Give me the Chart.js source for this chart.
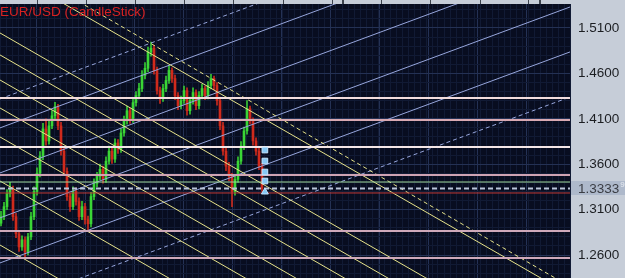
<!DOCTYPE html>
<html>
<head>
<meta charset="utf-8">
<script src="https://cdn.jsdelivr.net/npm/chart.js@4.4.1/dist/chart.umd.min.js"></script>
<style>
  html, body { margin: 0; padding: 0; background: #c6cdd8; }
  #wrap { width: 625px; height: 278px; position: relative; }
</style>
</head>
<body>
<div id="wrap"><canvas id="chart"></canvas></div>
<script>
// EUR/USD bars (one bar = 3px)
const opens = [
  1.2950, 1.3022, 1.3133, 1.3278, 1.3322, 1.3022, 1.2833, 1.2689, 1.2767, 1.2633,
  1.2800, 1.3022, 1.3300, 1.3500, 1.3689, 1.3989, 1.3856, 1.4022, 1.4133, 1.4233,
  1.4022, 1.3744, 1.3522, 1.3244, 1.3133, 1.3300, 1.3189, 1.3022, 1.3133, 1.2989,
  1.2944, 1.3244, 1.3389, 1.3467, 1.3544, 1.3433, 1.3633, 1.3744, 1.3656, 1.3833,
  1.3767, 1.3944, 1.4078, 1.4189, 1.4100, 1.4278, 1.4356, 1.4433, 1.4578, 1.4656,
  1.4833, 1.4878, 1.4633, 1.4411, 1.4322, 1.4433, 1.4522, 1.4633, 1.4544, 1.4356,
  1.4244, 1.4300, 1.4411, 1.4189, 1.4300, 1.4389, 1.4244, 1.4356, 1.4433, 1.4356,
  1.4467, 1.4544, 1.4467, 1.4300, 1.4022, 1.3744, 1.3578, 1.3467, 1.3300, 1.3433,
  1.3633, 1.3800, 1.3967, 1.4211, 1.4078, 1.3856, 1.3744, 1.3578
];
const highs = [
  1.3080, 1.3180, 1.3320, 1.3400, 1.3360, 1.3060, 1.2870, 1.2810, 1.2800, 1.2840,
  1.3070, 1.3350, 1.3560, 1.3740, 1.4050, 1.4100, 1.4080, 1.4190, 1.4280, 1.4260,
  1.4060, 1.3780, 1.3560, 1.3280, 1.3350, 1.3340, 1.3230, 1.3190, 1.3170, 1.3030,
  1.3290, 1.3440, 1.3510, 1.3600, 1.3580, 1.3680, 1.3800, 1.3790, 1.3880, 1.3870,
  1.3990, 1.4130, 1.4240, 1.4220, 1.4330, 1.4400, 1.4490, 1.4630, 1.4720, 1.4890,
  1.4944, 1.4910, 1.4670, 1.4450, 1.4480, 1.4570, 1.4690, 1.4660, 1.4580, 1.4390,
  1.4350, 1.4460, 1.4440, 1.4340, 1.4440, 1.4420, 1.4400, 1.4480, 1.4460, 1.4510,
  1.4590, 1.4570, 1.4500, 1.4340, 1.4060, 1.3790, 1.3620, 1.3500, 1.3480, 1.3680,
  1.3850, 1.4010, 1.4300, 1.4240, 1.4110, 1.3890, 1.3780, 1.3610
];
const lows = [
  1.2920, 1.2990, 1.3100, 1.3240, 1.2980, 1.2790, 1.2640, 1.2650, 1.2570, 1.2600,
  1.2770, 1.2990, 1.3260, 1.3460, 1.3650, 1.3810, 1.3820, 1.3990, 1.4100, 1.3980,
  1.3700, 1.3480, 1.3200, 1.3080, 1.3100, 1.3150, 1.2980, 1.2990, 1.2940, 1.2860,
  1.2910, 1.3210, 1.3350, 1.3430, 1.3390, 1.3400, 1.3600, 1.3610, 1.3620, 1.3720,
  1.3730, 1.3910, 1.4040, 1.4050, 1.4060, 1.4240, 1.4320, 1.4400, 1.4540, 1.4620,
  1.4790, 1.4590, 1.4370, 1.4270, 1.4290, 1.4400, 1.4490, 1.4500, 1.4310, 1.4200,
  1.4210, 1.4270, 1.4140, 1.4150, 1.4260, 1.4200, 1.4210, 1.4320, 1.4310, 1.4320,
  1.4430, 1.4420, 1.4250, 1.3980, 1.3700, 1.3530, 1.3420, 1.3133, 1.3260, 1.3400,
  1.3600, 1.3760, 1.3930, 1.4040, 1.3810, 1.3700, 1.3540, 1.3300
];
const closes = [
  1.3022, 1.3133, 1.3278, 1.3322, 1.3022, 1.2833, 1.2689, 1.2767, 1.2633, 1.2800,
  1.3022, 1.3300, 1.3500, 1.3689, 1.3989, 1.3856, 1.4022, 1.4133, 1.4233, 1.4022,
  1.3744, 1.3522, 1.3244, 1.3133, 1.3300, 1.3189, 1.3022, 1.3133, 1.2989, 1.2944,
  1.3244, 1.3389, 1.3467, 1.3544, 1.3433, 1.3633, 1.3744, 1.3656, 1.3833, 1.3767,
  1.3944, 1.4078, 1.4189, 1.4100, 1.4278, 1.4356, 1.4433, 1.4578, 1.4656, 1.4833,
  1.4878, 1.4633, 1.4411, 1.4322, 1.4433, 1.4522, 1.4633, 1.4544, 1.4356, 1.4244,
  1.4300, 1.4411, 1.4189, 1.4300, 1.4389, 1.4244, 1.4356, 1.4433, 1.4356, 1.4467,
  1.4544, 1.4467, 1.4300, 1.4022, 1.3744, 1.3578, 1.3467, 1.3300, 1.3433, 1.3633,
  1.3800, 1.3967, 1.4211, 1.4078, 1.3856, 1.3744, 1.3578, 1.3333
];

// horizontal levels
const levelPrices = [1.4329, 1.4087, 1.3789, 1.3481, 1.3404, 1.3333, 1.3283, 1.2864, 1.2567];

// falling channel lines: price at left edge / right edge of the plot
const fallStart = [1.5893, 1.5772, 1.5045, 1.4803, 1.4527, 1.4219, 1.3900, 1.3415, 1.2710];
const fallEnd   = [1.2252, 1.2162, 1.1435, 1.1193, 1.0918, 1.0610, 1.0290, 0.9806, 0.9100];

// rising channel lines
const riseStart = [1.4319, 1.4000, 1.3504, 1.3009, 1.2513, 1.2018];
const riseEnd   = [1.6642, 1.6322, 1.5827, 1.5331, 1.4836, 1.4340];

const markerPrices = [1.3756, 1.3635, 1.3514, 1.3415];
const arrowPrice = 1.3294;
const lastPrice = 1.3333;
const priceLabels = [1.26, 1.31, 1.36, 1.41, 1.46, 1.51];

const X_MAX = 190;
const FONT = '"Liberation Sans", Arial, sans-serif';

const levelStyle = [
  { c: '#f2dcdc', w: 2 }, { c: '#d9a9b2', w: 2 }, { c: '#f4e6e6', w: 2 },
  { c: '#cfa3b3', w: 2 }, { c: '#9fd79a', w: 1 }, { c: '#b9c4d8', w: 2, d: [5, 3] },
  { c: '#c23a36', w: 1 }, { c: '#cfa9ba', w: 2 }, { c: '#cfa9ba', w: 2 }
];

const up = closes.map((c, i) => c >= opens[i]);
const barX = i => i + 1 / 3;

const datasets = [];

function segment(p0, p1, color, width, dash) {
  datasets.push({
    type: 'line',
    data: [{ x: 0, y: p0 }, { x: X_MAX, y: p1 }],
    borderColor: color,
    borderWidth: width,
    borderDash: dash || [],
    pointRadius: 0,
    tension: 0,
    order: 0
  });
}

levelPrices.forEach((p, i) => segment(p, p, levelStyle[i].c, levelStyle[i].w, levelStyle[i].d));
fallStart.forEach((p, i) => segment(p, fallEnd[i], '#e6e28a', 1, i === 0 ? [4, 3] : null));
riseStart.forEach((p, i) => segment(p, riseEnd[i], '#97a6dc', 1, (i === 0 || i === 5) ? [4, 3] : null));

datasets.push({
  type: 'scatter',
  data: markerPrices.map(p => ({ x: closes.length + 0.3, y: p })),
  pointStyle: 'rect',
  pointRadius: 4,
  backgroundColor: '#86c8f4',
  borderColor: '#c4e6ff',
  borderWidth: 1,
  order: -1
});
datasets.push({
  type: 'scatter',
  data: [{ x: closes.length + 0.3, y: arrowPrice }],
  pointStyle: 'triangle',
  pointRadius: 4,
  backgroundColor: '#86c8f4',
  borderColor: '#c4e6ff',
  borderWidth: 1,
  order: -1
});

// wicks and bodies
datasets.push({
  type: 'bar',
  data: lows.map((l, i) => ({ x: barX(i), y: [l, highs[i]] })),
  backgroundColor: up.map(u => u ? '#36c832' : '#c82a1e'),
  barThickness: 1,
  grouped: false,
  order: 2
});
datasets.push({
  type: 'bar',
  data: opens.map((o, i) => ({ x: barX(i), y: [o, closes[i]] })),
  backgroundColor: up.map(u => u ? '#3ad636' : '#d02a1c'),
  barThickness: 2,
  grouped: false,
  order: 1
});

const frame = {
  id: 'frame',
  beforeDraw(chart) {
    const { ctx, chartArea: a, width, height } = chart;
    ctx.save();
    ctx.fillStyle = '#c6cdd8';
    ctx.fillRect(0, 0, width, height);
    ctx.fillStyle = '#080d20';
    ctx.fillRect(a.left, a.top, a.right - a.left, a.bottom - a.top);
    // separators in the top strip
    ctx.fillStyle = '#3c424c';
    [37, 86, 135, 184, 233, 283, 332, 381, 430, 480, 528].forEach(x => ctx.fillRect(x, 0, 1, a.top));
    ctx.fillRect(342, 0, 2, a.top);
    ctx.fillRect(539, 0, 2, a.top);
    ctx.restore();
  },
  afterDraw(chart) {
    const { ctx, chartArea: a, scales } = chart;
    ctx.save();
    ctx.font = '13.5px ' + FONT;
    ctx.fillStyle = '#d82222';
    ctx.textBaseline = 'alphabetic';
    ctx.fillText('EUR/USD (CandleStick)', 0, 16);

    const y = Math.round(scales.y.getPixelForValue(lastPrice));
    ctx.fillStyle = '#aeb9cb';
    ctx.fillRect(a.right + 1, y - 7, chart.width - a.right - 1, 14);
    ctx.font = '13.5px ' + FONT;
    ctx.fillStyle = '#3a3d44';
    ctx.textBaseline = 'middle';
    ctx.fillText(lastPrice.toFixed(4), a.right + 8, y + 1);
    const w = ctx.measureText(lastPrice.toFixed(4)).width;
    ctx.font = '8px ' + FONT;
    ctx.fillStyle = '#e8ecf2';
    ctx.fillText('9', a.right + 9 + w, y - 3);
    ctx.restore();
  }
};

const isLabel = v => priceLabels.some(t => Math.abs(t - v) < 1e-6);

new Chart(document.getElementById('chart'), {
  type: 'bar',
  data: { datasets },
  options: {
    responsive: true,
    maintainAspectRatio: false,
    animation: false,
    layout: { autoPadding: false, padding: { top: 4, left: 0, right: 0, bottom: 0 } },
    plugins: { legend: { display: false }, tooltip: { enabled: false } },
    scales: {
      x: {
        type: 'linear',
        min: 0,
        max: X_MAX,
        offset: false,
        afterBuildTicks: s => {
          const t = [];
          for (let v = 0; v <= X_MAX; v += 2) t.push({ value: v });
          for (let v = 12.33; v <= X_MAX; v += 16.33) t.push({ value: v, major: true });
          s.ticks = t;
        },
        afterFit: s => {
          s.height = 0;
          s.paddingLeft = 0; s.paddingRight = 0; s.paddingTop = 0; s.paddingBottom = 0;
        },
        ticks: { display: false },
        grid: {
          offset: false,
          drawTicks: false,
          color: c => c.tick && c.tick.major ? '#243154' : '#111a34'
        },
        border: { display: false }
      },
      y: {
        position: 'right',
        min: 1.2347,
        max: 1.5364,
        afterBuildTicks: s => {
          const t = [];
          for (let k = 124; k <= 153; k++) t.push({ value: k / 100 });
          s.ticks = t;
        },
        afterFit: s => {
          s.width = 55;
          s.paddingTop = 0; s.paddingBottom = 0; s.paddingLeft = 0; s.paddingRight = 0;
        },
        ticks: {
          autoSkip: false,
          padding: 8,
          color: '#1c1e22',
          font: { family: FONT, size: 13.5 },
          callback: v => isLabel(v) ? v.toFixed(4) : ''
        },
        grid: {
          drawTicks: false,
          color: c => isLabel(c.tick.value) ? '#243154' : '#111a34'
        },
        border: { display: false }
      }
    }
  },
  plugins: [frame]
});
</script>
</body>
</html>
